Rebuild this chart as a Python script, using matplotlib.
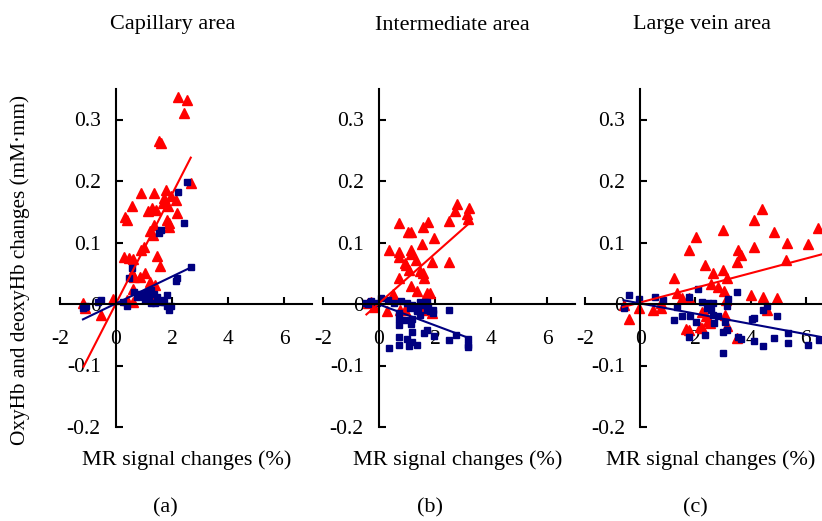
import matplotlib.pyplot as plt

# -----------------------------
# data
# -----------------------------

# (a) capillary area
cap_oxy_x = [2.21, 2.55, 2.43, 1.53, 1.61, 2.67, 0.90, 1.37, 1.77, 1.71, 1.95, 2.13,
             1.68, 0.57, 1.85, 1.13, 1.29, 1.43, 2.19, 0.32, 0.39, 1.35, 1.81, 1.89,
             1.89, 1.23, 1.31, 1.47, 1.56, 1.01, 0.89, 0.30, 0.45, 0.60, 0.57, 0.84,
             1.05, 0.65, 0.62, 1.20, 1.41, -0.10, -1.18, -1.12, -0.52, 0.62, 1.37, 0.39]
cap_oxy_y = [0.337, 0.332, 0.310, 0.265, 0.262, 0.196, 0.180, 0.180, 0.185, 0.172, 0.175, 0.169,
             0.165, 0.160, 0.159, 0.151, 0.156, 0.153, 0.148, 0.142, 0.137, 0.128, 0.137, 0.131,
             0.126, 0.118, 0.113, 0.078, 0.062, 0.093, 0.087, 0.077, 0.074, 0.073, 0.050, 0.044,
             0.050, 0.044, 0.025, 0.035, 0.031, 0.008, 0.002, -0.007, -0.018, 0.003, 0.012, 0.007]
cap_deoxy_x = [2.55, 2.21, 2.43, 1.53, 1.62, 2.67, 2.19, 2.13, 0.57, 0.48, 0.65, 0.87,
               1.11, 1.25, 1.35, 0.99, 0.75, 1.17, 1.47, 1.83, 1.26, 1.38, 1.59, 1.73,
               1.81, 1.89, 1.95, 1.65, 0.39, 0.26, -0.52, -0.66, -1.12, -1.06, -1.18, 1.05]
cap_deoxy_y = [0.198, 0.182, 0.131, 0.115, 0.121, 0.060, 0.042, 0.037, 0.058, 0.043, 0.020, 0.017,
               0.020, 0.022, 0.017, 0.012, 0.012, 0.009, 0.012, 0.015, 0.001, 0.001, 0.004, 0.004,
               -0.004, -0.010, -0.004, 0.007, -0.004, 0.004, 0.007, 0.004, -0.005, -0.003, -0.007, 0.007]
cap_oxy_fit_x = [-1.16, 2.67]
cap_oxy_fit_y = [-0.102, 0.238]
cap_deoxy_fit_x = [-1.18, 2.70]
cap_deoxy_fit_y = [-0.025, 0.060]

# (b) intermediate area
mid_oxy_x = [2.77, 2.71, 3.20, 3.13, 3.19, 2.51, 0.70, 1.75, 1.58, 1.02, 1.16, 1.96,
             1.54, 0.37, 0.73, 1.16, 0.71, 1.14, 1.33, 0.92, 0.98, 1.90, 2.51, 1.06,
             1.48, 1.58, 0.70, 1.60, 1.16, 1.34, 1.72, 1.81, 0.49, 0.28, -0.29, -0.39,
             -0.18, 0.76, 0.92, 1.90, 1.58, 1.64]
mid_oxy_y = [0.162, 0.151, 0.156, 0.146, 0.139, 0.135, 0.131, 0.134, 0.126, 0.117, 0.117, 0.107,
             0.098, 0.087, 0.085, 0.087, 0.076, 0.082, 0.071, 0.067, 0.063, 0.068, 0.068, 0.056,
             0.054, 0.051, 0.043, 0.043, 0.030, 0.021, 0.018, 0.018, 0.017, -0.011, 0.004, 0.002,
             -0.005, -0.010, -0.009, -0.015, -0.010, 0.005]
mid_deoxy_x = [0.37, 0.70, 1.06, 1.34, 1.18, 1.00, 0.70, 1.18, 1.60, 1.72, 1.96, 2.51,
               2.75, 3.17, 3.17, 3.19, 0.70, 0.73, 0.92, 0.70, 1.16, 1.18, 1.34, 1.48,
               1.70, 1.82, 1.94, 1.94, 2.51, 1.00, 1.18, 1.46, 1.54, 1.63, 1.72, 1.76,
               1.39, 0.78, 0.52, 0.07, 0.31, -0.29, -0.39, -0.45, -0.08, 1.12, 1.36]
mid_deoxy_y = [-0.071, -0.067, -0.069, -0.066, -0.062, -0.057, -0.054, -0.045, -0.047, -0.042, -0.052, -0.058,
               -0.050, -0.057, -0.066, -0.070, -0.034, -0.025, -0.026, -0.015, -0.033, -0.025, -0.012, -0.018,
               -0.010, -0.012, -0.010, -0.015, -0.009, 0.001, -0.002, 0.004, -0.002, 0.003, 0.004, -0.004,
               -0.007, 0.005, 0.002, 0.009, 0.006, 0.005, 0.000, 0.001, 0.002, -0.007, -0.010]
mid_oxy_fit_x = [-0.45, 3.19]
mid_oxy_fit_y = [-0.017, 0.130]
mid_deoxy_fit_x = [-0.39, 3.19]
mid_deoxy_fit_y = [0.006, -0.055]

# (c) large vein area
vein_oxy_x = [4.43, 4.13, 2.99, 6.45, 4.86, 2.02, 6.08, 5.33, 4.12, 1.75, 3.55, 3.64,
              5.30, 3.49, 2.35, 3.01, 2.65, 3.13, 1.24, 2.55, 2.83, 3.04, 1.33, 4.00,
              4.46, 4.94, 1.51, 1.78, 3.11, 0.75, 0.48, 0.76, -0.04, -0.57, -0.42, 2.23,
              2.39, 2.47, 2.53, 3.07, 3.13, 1.66, 1.77, 2.17, 2.23, 3.49, 4.60]
vein_oxy_y = [0.155, 0.137, 0.121, 0.123, 0.117, 0.109, 0.097, 0.099, 0.093, 0.087, 0.087, 0.079,
              0.072, 0.068, 0.063, 0.056, 0.051, 0.043, 0.043, 0.032, 0.027, 0.021, 0.018, 0.015,
              0.011, 0.009, 0.009, 0.009, 0.006, 0.002, -0.009, -0.006, -0.007, -0.002, -0.024, -0.013,
              -0.020, -0.027, -0.031, -0.018, -0.035, -0.041, -0.043, -0.038, -0.039, -0.055, -0.009]
vein_deoxy_x = [-0.39, -0.60, -0.04, 0.54, 0.81, 1.33, 1.24, 1.51, 1.75, 1.81, 1.75, 2.11,
                2.02, 2.23, 2.35, 2.47, 2.41, 2.55, 2.65, 2.63, 2.67, 2.83, 3.01, 3.01,
                3.07, 3.13, 3.13, 3.17, 3.52, 3.55, 3.64, 4.04, 4.13, 4.13, 4.46, 4.46,
                4.60, 4.86, 4.96, 5.34, 5.34, 6.08, 6.48]
vein_deoxy_y = [0.015, -0.007, 0.008, 0.011, 0.006, -0.005, -0.026, -0.020, 0.011, -0.019, -0.054, 0.025,
                -0.030, 0.004, -0.050, 0.002, -0.006, -0.010, 0.001, -0.018, -0.031, -0.019, -0.045, -0.079,
                -0.030, -0.043, -0.003, 0.008, 0.020, -0.054, -0.057, -0.025, -0.022, -0.060, -0.010, -0.068,
                -0.003, -0.055, -0.019, -0.047, -0.064, -0.066, -0.058]
vein_oxy_fit_x = [-0.63, 6.60]
vein_oxy_fit_y = [-0.005, 0.081]
vein_deoxy_fit_x = [-0.60, 6.60]
vein_deoxy_fit_y = [0.006, -0.054]

titles = ["Capillary area", "Intermediate area", "Large vein area"]
panel_tags = ["(a)", "(b)", "(c)"]
x_ticks = [-2, 0, 2, 4, 6]
x_ticklabels = ["-2", "0", "2", "4", "6"]
y_ticks = [-0.2, -0.1, 0, 0.1, 0.2, 0.3]
y_ticklabels = ["-0.2", "-0.1", "0", "0.1", "0.2", "0.3"]

# -----------------------------
# figure layout (pixels)
# -----------------------------

W, H = 822, 521
plt.rcParams['font.family'] = ['Liberation Serif', 'DejaVu Serif']
plt.rcParams['axes.unicode_minus'] = False

fig = plt.figure(figsize=(W / 100, H / 100), dpi=100)

RED = "#ff0000"
NAVY = "#000080"

panels = [
    (cap_oxy_x, cap_oxy_y, cap_deoxy_x, cap_deoxy_y,
     cap_oxy_fit_x, cap_oxy_fit_y, cap_deoxy_fit_x, cap_deoxy_fit_y),
    (mid_oxy_x, mid_oxy_y, mid_deoxy_x, mid_deoxy_y,
     mid_oxy_fit_x, mid_oxy_fit_y, mid_deoxy_fit_x, mid_deoxy_fit_y),
    (vein_oxy_x, vein_oxy_y, vein_deoxy_x, vein_deoxy_y,
     vein_oxy_fit_x, vein_oxy_fit_y, vein_deoxy_fit_x, vein_deoxy_fit_y),
]

left_px = [60, 323, 585]      # pixel of x = -2
unit_px = [28.0, 28.0, 27.6]  # pixels per x unit
title_cx = [173, 452, 702]
xlabel_cx = [187, 458, 711]
tag_cx = [165, 430, 695]

top_px, bottom_px = 88.75, 427

for i, (ox, oy, dx, dy, ofx, ofy, dfx, dfy) in enumerate(panels):
    rect = [left_px[i] / W, (H - bottom_px) / H,
            9 * unit_px[i] / W, (bottom_px - top_px) / H]
    ax = fig.add_axes(rect)
    ax.patch.set_visible(False)
    ax.set_xlim(-2, 7)
    ax.set_ylim(-0.2, 0.35)

    ax.plot(ox, oy, ls="none", marker="^", ms=6.5, color=RED, mec=RED)
    ax.plot(dx, dy, ls="none", marker="s", ms=4, color=NAVY, mec=NAVY)
    ax.plot(ofx, ofy, color=RED, lw=1.5)
    ax.plot(dfx, dfy, color=NAVY, lw=1.5)

    for s in ["top", "right"]:
        ax.spines[s].set_visible(False)
    ax.spines["left"].set_position(("data", 0))
    ax.spines["bottom"].set_position(("data", 0))
    for s in ["left", "bottom"]:
        ax.spines[s].set_linewidth(1.5)

    ax.set_xticks(x_ticks)
    ax.set_xticklabels(x_ticklabels)
    ax.set_yticks(y_ticks)
    ax.set_yticklabels(y_ticklabels)
    ax.tick_params(direction="in", length=5, width=1.5, labelsize=15.5)
    ax.tick_params(axis="x", pad=19)
    ax.tick_params(axis="y", pad=11)

    fig.text(title_cx[i] / W, 1 - 25 / H, titles[i], ha="center", va="center", fontsize=16)
    fig.text(xlabel_cx[i] / W, 1 - 460 / H, "MR signal changes (%)",
             ha="center", va="center", fontsize=16)
    fig.text(tag_cx[i] / W, 1 - 508 / H, panel_tags[i], ha="center", va="center", fontsize=16)

fig.text(20 / W, 1 - 270 / H, "OxyHb and deoxyHb changes (mM\u00b7mm)",
         rotation=90, ha="center", va="center", fontsize=15.3)

fig.savefig("out.png", dpi=100)
